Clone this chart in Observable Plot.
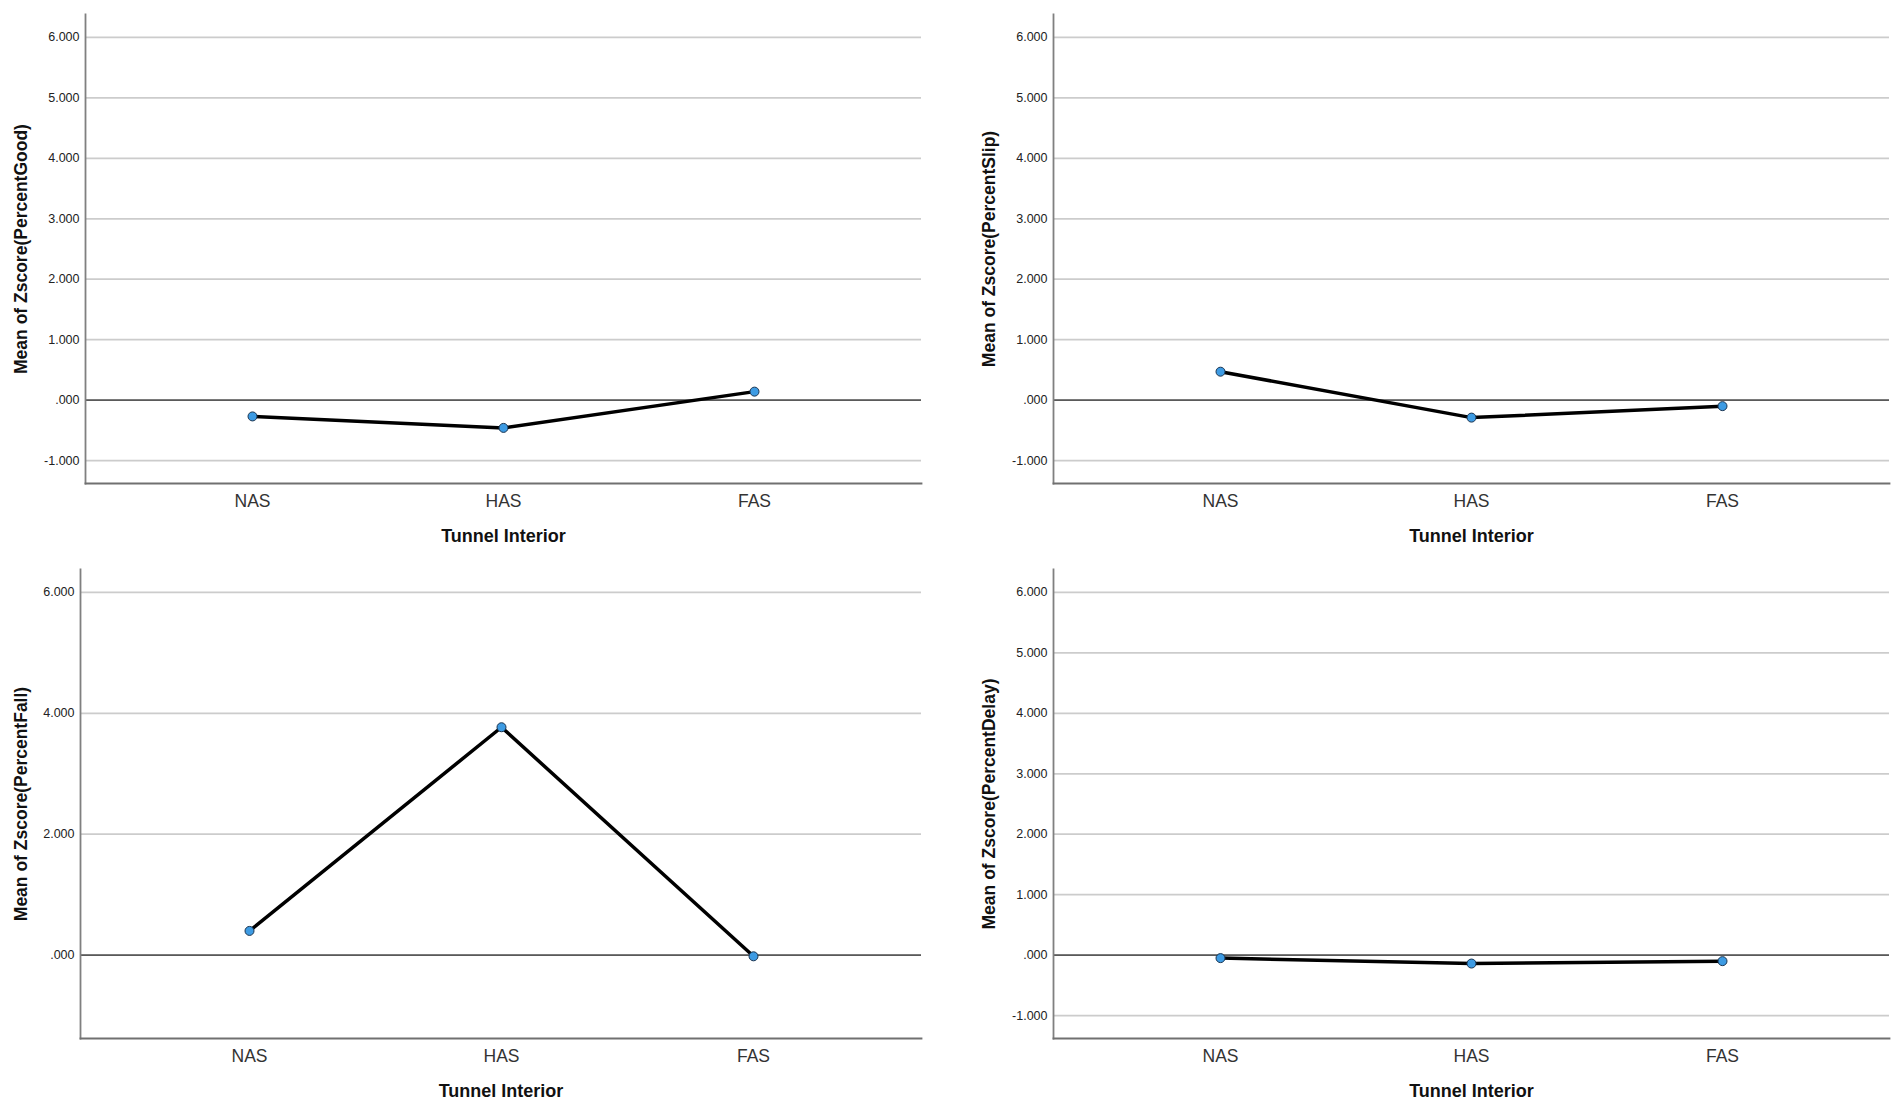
<!DOCTYPE html>
<html>
<head>
<meta charset="utf-8">
<script src="https://cdn.jsdelivr.net/npm/d3@7"></script>
<script src="https://cdn.jsdelivr.net/npm/@observablehq/plot@0.6"></script>
<style>
  body { margin: 0; background: #fff; }
  #wrap { position: relative; width: 1902px; height: 1104px; background: #fff; }
  .panel { position: absolute; }
</style>
</head>
<body>
<div id="wrap"></div>
<script>
// ---- data ----
const categories = ["NAS", "HAS", "FAS"];
const goodValues  = [-0.27, -0.46, 0.14];
const slipValues  = [0.47, -0.29, -0.10];
const fallValues  = [0.40, 3.77, -0.02];
const delayValues = [-0.05, -0.14, -0.10];
const yTicksAll  = [-1, 0, 1, 2, 3, 4, 5, 6];
const yTicksFall = [0, 2, 4, 6];
const yDomain = [-1.38, 6.38];
const xTitle = "Tunnel Interior";
const yTitleGood  = "Mean of Zscore(PercentGood)";
const yTitleSlip  = "Mean of Zscore(PercentSlip)";
const yTitleFall  = "Mean of Zscore(PercentFall)";
const yTitleDelay = "Mean of Zscore(PercentDelay)";

const FONT = "'Liberation Sans', Arial, Helvetica, sans-serif";
const fmt = d => d === 0 ? ".000" : d.toFixed(3);

function makePanel(values, yTitle, yTicks, pos) {
  const data = categories.map((c, i) => ({cat: c, v: values[i]}));
  const chart = Plot.plot({
    width: 951,
    height: 549,
    marginTop: 14,
    marginBottom: 66,
    marginLeft: pos.marginLeft,
    marginRight: pos.marginRight,
    style: {fontFamily: FONT, background: "#fff", overflow: "visible"},
    x: {type: "point", domain: categories, padding: 0.665},
    y: {domain: yDomain},
    marks: [
      Plot.gridY(yTicks, {stroke: "#cccccc", strokeOpacity: 1, strokeWidth: 1.8}),
      Plot.ruleY([0], {stroke: "#5a5a5a", strokeWidth: 1.8}),
      Plot.frame({anchor: "left", stroke: "#808080", strokeWidth: 1.8}),
      Plot.frame({anchor: "bottom", stroke: "#707070", strokeWidth: 1.8}),
      Plot.axisY(yTicks, {tickSize: 0, tickPadding: 6, tickFormat: fmt, fontSize: 12.5, fill: "#222", label: null}),
      Plot.axisX({tickSize: 0, tickPadding: 11, fontSize: 17.5, fill: "#333", label: null}),
      Plot.line(data, {x: "cat", y: "v", stroke: "#000", strokeWidth: 3.5}),
      Plot.dot(data, {x: "cat", y: "v", r: 4.5, fill: "#3d9be3", stroke: "#1a3450", strokeWidth: 1}),
      Plot.text([yTitle], {text: d => d, frameAnchor: "left", rotate: -90, dx: -pos.titleOffset,
        textAnchor: "middle", lineAnchor: "middle", fontSize: 17.5, fontWeight: "bold", fill: "#111"}),
      Plot.text([xTitle], {text: d => d, frameAnchor: "bottom", dy: 53,
        textAnchor: "middle", lineAnchor: "middle", fontSize: 18, fontWeight: "bold", fill: "#111"})
    ]
  });
  const div = document.createElement("div");
  div.className = "panel";
  div.style.left = pos.left + "px";
  div.style.top = pos.top + "px";
  div.appendChild(chart);
  document.getElementById("wrap").appendChild(div);
}

makePanel(goodValues,  yTitleGood,  yTicksAll,  {left: 0,   top: 0,   marginLeft: 85,  marginRight: 30, titleOffset: 64});
makePanel(slipValues,  yTitleSlip,  yTicksAll,  {left: 951, top: 0,   marginLeft: 102, marginRight: 13, titleOffset: 64});
makePanel(fallValues,  yTitleFall,  yTicksFall, {left: 0,   top: 555, marginLeft: 80,  marginRight: 30, titleOffset: 59});
makePanel(delayValues, yTitleDelay, yTicksAll,  {left: 951, top: 555, marginLeft: 102, marginRight: 13, titleOffset: 64});
</script>
</body>
</html>
